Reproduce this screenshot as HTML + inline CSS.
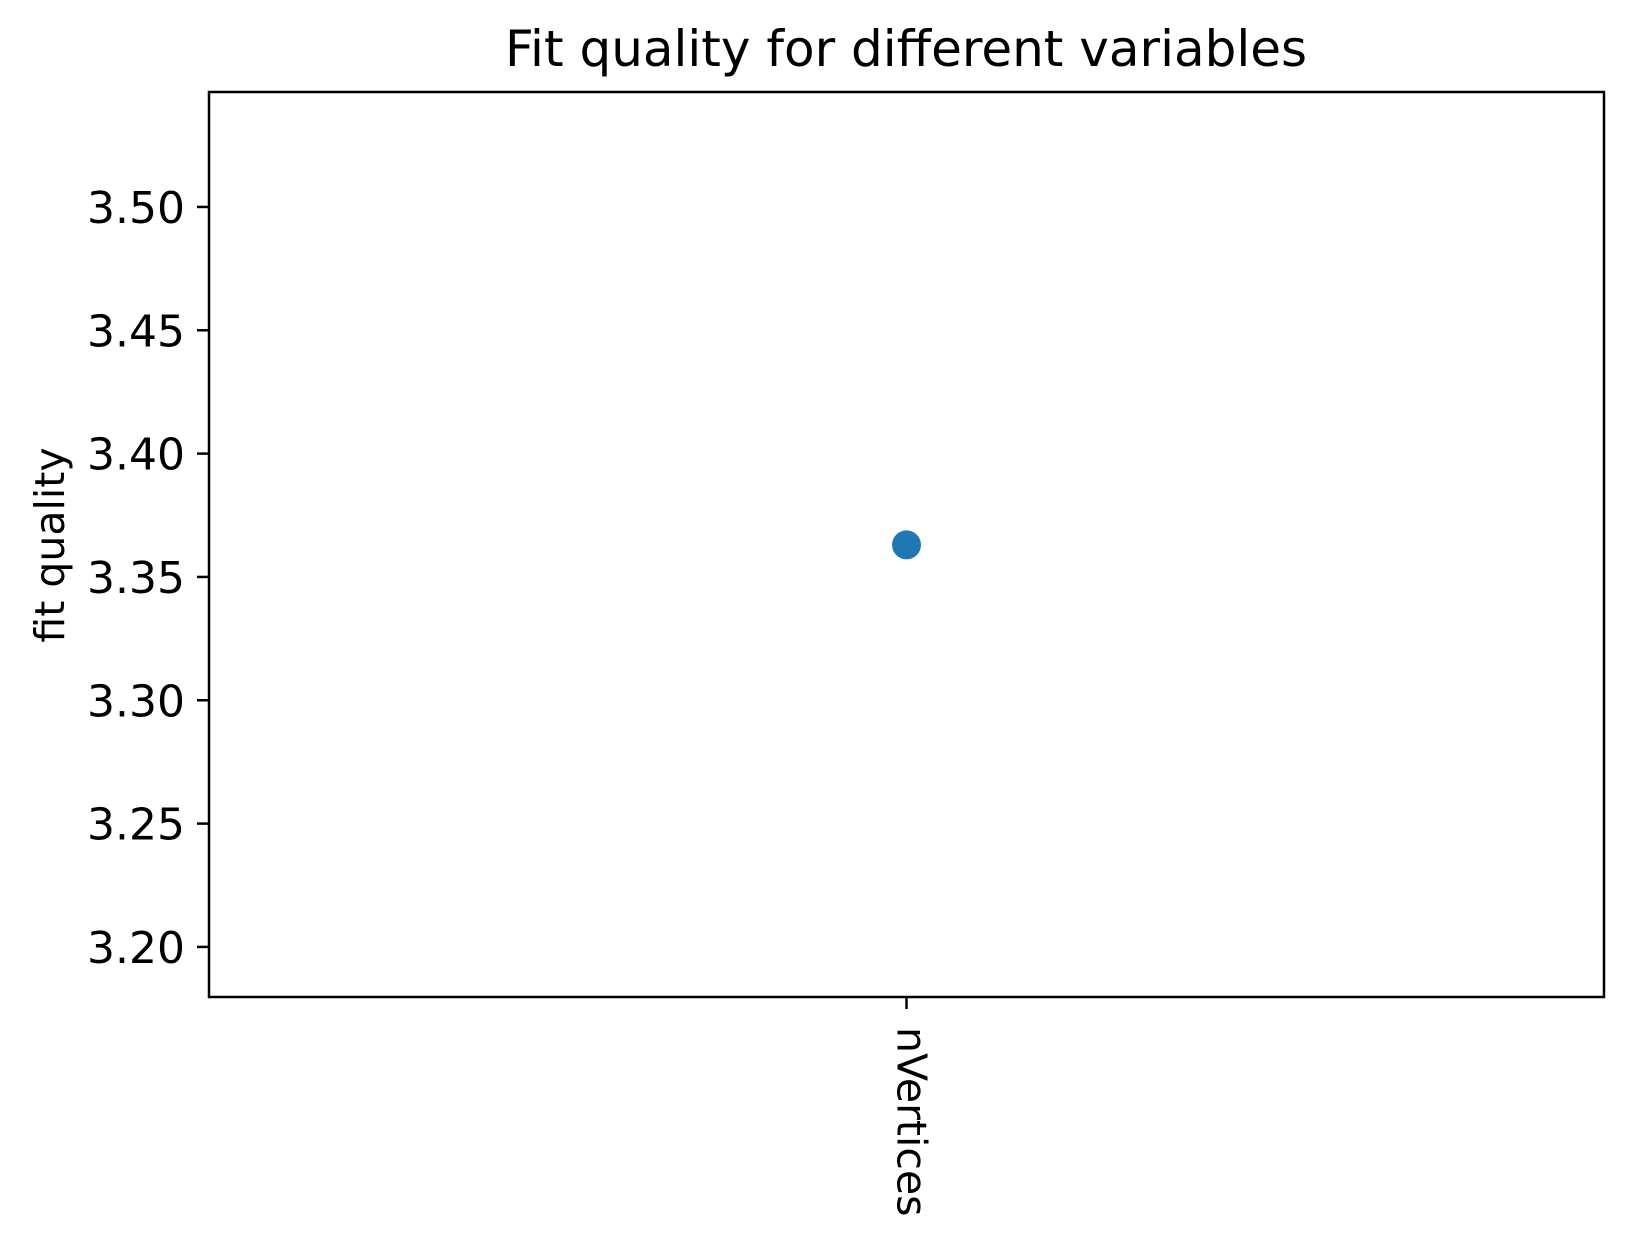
<!DOCTYPE html>
<html><head><meta charset="utf-8"><style>
html,body{margin:0;padding:0;background:#fff;}
svg text{font-family:"DejaVu Sans","Liberation Sans",sans-serif;fill:#000;}
</style></head><body>
<svg id="chart" width="1633" height="1250" xmlns="http://www.w3.org/2000/svg">
<rect width="1633" height="1250" fill="#fff"/>
<text x="906" y="66" font-size="50" text-anchor="middle">Fit quality for different variables</text>
<text transform="translate(64,545) rotate(-90)" font-size="41" text-anchor="middle">fit quality</text>
<g id="ticks"></g>
<g id="marks"></g>
<rect x="209" y="92" width="1395" height="905" fill="none" stroke="#000" stroke-width="2.5"/>
</svg>
<script>
const categories = ["nVertices"];
const values = [3.363];
const yTicks = [3.20, 3.25, 3.30, 3.35, 3.40, 3.45, 3.50];
const yTickLabels = ["3.20", "3.25", "3.30", "3.35", "3.40", "3.45", "3.50"];

const L = 209, R = 1604, T = 92, B = 997;
const yMin = 3.1797, yMax = 3.5466;
function yScale(v){ return B - (v - yMin) / (yMax - yMin) * (B - T); }
function xScale(i){ const n = categories.length; return L + (R - L) * (i + 0.5) / n; }
const NS = "http://www.w3.org/2000/svg";
const tg = document.getElementById('ticks');
const mg = document.getElementById('marks');
yTicks.forEach((v, i) => {
  const y = yScale(v);
  const ln = document.createElementNS(NS, 'line');
  ln.setAttribute('x1', L - 12); ln.setAttribute('x2', L);
  ln.setAttribute('y1', y); ln.setAttribute('y2', y);
  ln.setAttribute('stroke', '#000'); ln.setAttribute('stroke-width', '2.5');
  
  
  tg.appendChild(ln);
  const t = document.createElementNS(NS, 'text');
  t.setAttribute('x', L - 24); t.setAttribute('y', y + 16);
  t.setAttribute('font-size', '44'); t.setAttribute('text-anchor', 'end');
  t.textContent = yTickLabels[i];
  
  
  tg.appendChild(t);
});
categories.forEach((c, i) => {
  const x = xScale(i);
  const ln = document.createElementNS(NS, 'line');
  ln.setAttribute('x1', x); ln.setAttribute('x2', x);
  ln.setAttribute('y1', B); ln.setAttribute('y2', B + 12);
  ln.setAttribute('stroke', '#000'); ln.setAttribute('stroke-width', '2.5');
  
  
  tg.appendChild(ln);
  const t = document.createElementNS(NS, 'text');
  t.setAttribute('transform', 'translate(' + (x - 9) + ',' + (B + 30) + ') rotate(90)');
  t.setAttribute('font-size', '41');
  t.textContent = c;
  
  
  tg.appendChild(t);
  const p = document.createElementNS(NS, 'circle');
  p.setAttribute('cx', x); p.setAttribute('cy', yScale(values[i]));
  p.setAttribute('r', '14.5'); p.setAttribute('fill', '#1f77b4');
  
  
  mg.appendChild(p);
});
</script>
</body></html>
